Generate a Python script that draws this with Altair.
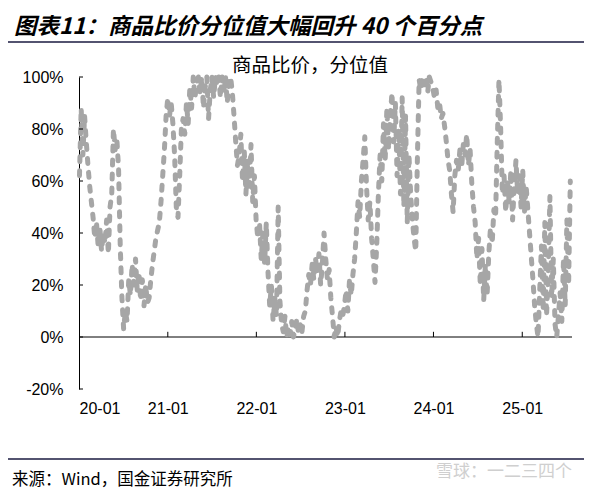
import altair as alt
import pandas as pd

# ---------------- text ----------------
title_text = "图表11：商品比价分位值大幅回升 40 个百分点"
inner_title = "商品比价，分位值"
source_text = "来源：Wind，国金证券研究所"
watermark_text = "雪球：一二三四个"

# ---------------- data (weekly, %) ----------------
start_date = "2020-01-03"
v2020 = [62, 88, 70, 85, 75, 66, 58, 52,
         46, 38, 44, 35, 42, 33, 40, 36, 45, 32,
         50, 55, 80, 72, 76, 65, 35, 15, 3,
         10, 6, 22, 16, 28, 20, 30, 18, 25, 14, 22, 12, 20, 13,
         15, 22, 28, 33, 38, 41,
         44, 52, 62, 72, 85]
v2021 = [92, 85, 90,
         82, 70, 50, 46, 62, 80,
         84, 78, 90, 82, 96, 88,
         100, 92, 98, 100, 94, 100, 88, 96, 100, 84, 95, 100, 92, 100,
         97, 100, 92, 100, 95, 100, 90, 98, 100, 94,
         85, 75, 66, 70,
         78, 60, 72, 55, 68, 58, 74, 52, 62]
v2022 = [45, 38, 44, 30, 40, 28, 44,
         25, 12, 20, 6, 15, 8,
         50, 14,
         5, 2, 8, 0, 4, 1, 6, 0, 3, 7, 1, 5, 2, 8,
         10, 18, 24, 20, 28, 22, 30, 25, 32, 20, 28, 40, 30, 22, 26,
         15, 8, 0, 4, 0,
         6, 10, 8]
v2023 = [12, 18, 10, 22, 16, 24,
         30, 40, 52, 46, 60, 68, 77, 58,
         45, 52, 38, 30, 21, 35,
         55, 70, 60, 82, 68, 88, 72, 85, 94, 75, 90, 62, 80,
         55, 92, 50, 85, 44, 70,
         55, 45, 38, 33,
         70, 99,
         95, 100, 97, 100, 94, 100, 98]
v2024 = [96, 92, 95, 88, 90, 84, 86, 81,
         75, 68, 64,
         55, 48, 62,
         68, 64, 72, 65, 74, 70, 78, 66, 72,
         59, 50, 44,
         30, 38, 20, 34, 14, 28, 16, 32,
         42, 36, 49,
         46, 75, 99, 80, 55,
         62, 48, 60, 52, 64, 45, 58, 68, 55, 62]
v2025 = [50, 64, 48, 58,
         49, 40, 31,
         22, 12, 5,
         0, 18, 35, 10, 44, 8, 25, 54, 15, 30,
         5, 0, 8,
         17, 6, 30, 12, 45, 20, 60]
values = v2020 + v2021 + v2022 + v2023 + v2024 + v2025

y_ticks = [-20, 0, 20, 40, 60, 80, 100]
tick_years = [2020, 2021, 2022, 2023, 2024, 2025]

df = pd.DataFrame({
    "date": pd.date_range(start_date, periods=len(values), freq="7D").strftime("%Y-%m-%d"),
    "v": values,
})

LATIN = "Liberation Sans"
CJK = "Noto Sans CJK SC"

x_scale = alt.Scale(type="utc", domain=[
    alt.DateTime(year=2020, month=1, date=1, utc=True),
    alt.DateTime(year=2025, month=7, date=25, utc=True)])
y_scale = alt.Scale(domain=[-20, 100], nice=False, zero=False)

line = alt.Chart(df).mark_line(
    color="#A6A6A6", strokeWidth=5, strokeDash=[5, 9],
    strokeCap="round", strokeJoin="round"
).encode(
    x=alt.X("date:T", scale=x_scale, title=None, axis=alt.Axis(
        values=[alt.DateTime(year=y, month=1, date=1, utc=True) for y in tick_years],
        labelExpr="utcFormat(datum.value, '%y-%m')", ticks=False, domain=False, grid=False,
        labelFont=LATIN, labelFontSize=16, labelColor="black", labelPadding=11)),
    y=alt.Y("v:Q", scale=y_scale, title=None, axis=alt.Axis(
        values=y_ticks, labelExpr="datum.value + '%'", ticks=False, domain=True,
        domainColor="black", domainWidth=1, grid=False,
        labelFont=LATIN, labelFontSize=16, labelColor="black", labelPadding=16)),
)

zero = alt.Chart(pd.DataFrame({"z": [0]})).mark_rule(color="black", strokeWidth=1).encode(
    y=alt.Y("z:Q"))

yticks = alt.Chart(pd.DataFrame({"v": y_ticks})).mark_rule(color="black", strokeWidth=1).encode(
    y=alt.Y("v:Q"), x=alt.value(0), x2=alt.value(4))

xticks = alt.Chart(pd.DataFrame({"d": [f"{y}-01-01" for y in tick_years[1:]]})).mark_rule(
    color="black", strokeWidth=1).encode(
    x=alt.X("d:T"), y=alt.datum(0), y2=alt.datum(2))

one = pd.DataFrame({"k": [0]})

title = alt.Chart(one).mark_text(
    text=title_text, font=CJK, fontSize=22.5, fontWeight="bold", fontStyle="italic",
    color="black", align="left", baseline="middle"
).encode(x=alt.value(-65), y=alt.value(-50))

title_rule = alt.Chart(one).mark_rule(color="#1a1a40", strokeWidth=1.5).encode(
    x=alt.value(-79), x2=alt.value(505), y=alt.value(-35))

inner = alt.Chart(one).mark_text(
    text=inner_title, font=CJK, fontSize=19.5, color="black", align="center", baseline="middle"
).encode(x=alt.value(231), y=alt.value(-11))

foot_rule = alt.Chart(one).mark_rule(color="#1a1a40", strokeWidth=1.5).encode(
    x=alt.value(-79), x2=alt.value(505), y=alt.value(382))

foot = alt.Chart(one).mark_text(
    text=source_text, font=CJK, fontSize=16.5, color="black", align="left", baseline="middle"
).encode(x=alt.value(-67), y=alt.value(403))

wm = alt.Chart(one).mark_text(
    text=watermark_text, font=CJK, fontSize=17, color="#cfcfcf", align="right", baseline="middle"
).encode(x=alt.value(493), y=alt.value(395))

chart = alt.layer(
    zero, line, yticks, xticks, title, title_rule, inner, foot_rule, foot, wm
).properties(
    width=493, height=312,
    padding={"left": 71, "top": 69, "right": 15, "bottom": 100},
    autosize=alt.AutoSizeParams(type="none"),
).configure_view(stroke="transparent")

chart.save("out.html", embed_options={"renderer": "svg", "actions": False})
